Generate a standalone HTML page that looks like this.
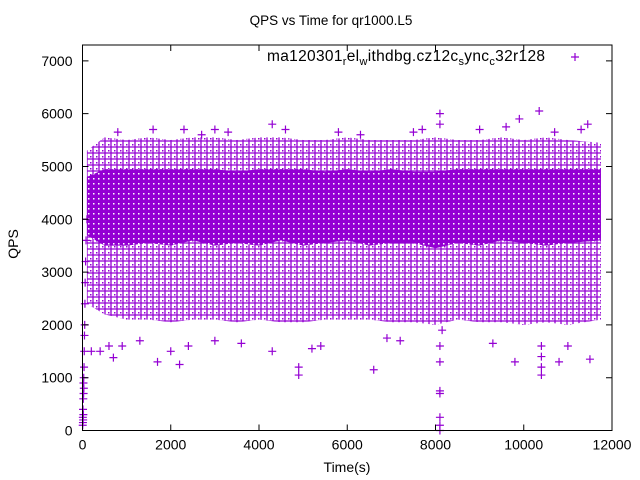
<!DOCTYPE html>
<html><head><meta charset="utf-8"><style>
body{margin:0;background:#fff}
svg{display:block;font-family:"Liberation Sans",sans-serif}
</style></head><body>
<svg id="chart" width="640" height="480" viewBox="0 0 640 480" xmlns="http://www.w3.org/2000/svg">
<defs>
<pattern id="pOuter" width="6" height="6" patternUnits="userSpaceOnUse">
<path d="M0 3h6M3 0v6" stroke="#9400d3" stroke-width="1.3" fill="none"/>
<rect x="0" y="0" width="1.5" height="1.5" fill="#9400d3"/>
</pattern>
<pattern id="pCore" width="5" height="5" patternUnits="userSpaceOnUse">
<rect width="5" height="5" fill="#9400d3"/>
<rect x="3" y="3" width="1.5" height="1.5" fill="#fff"/>
</pattern>
</defs>
<rect width="640" height="480" fill="#fff"/>
<text x="331" y="25" font-size="13.5" text-anchor="middle">QPS vs Time for qr1000.L5</text>
<text transform="translate(18,244) rotate(-90)" font-size="14" text-anchor="middle">QPS</text>
<text x="347" y="472" font-size="14" text-anchor="middle">Time(s)</text>
<g id="marks"></g>
<g id="axes"></g>
<g>
<text x="545" y="61" font-size="15.5" text-anchor="end" textLength="278">ma120301<tspan font-size="11" dy="4">r</tspan><tspan dy="-4">el</tspan><tspan font-size="11" dy="4">w</tspan><tspan dy="-4">ithdbg.cz12c</tspan><tspan font-size="11" dy="4">s</tspan><tspan dy="-4">ync</tspan><tspan font-size="11" dy="4">c</tspan><tspan dy="-4">32r128</tspan></text>
<path d="M571 57h8M575 53v8" stroke="#9400d3" stroke-width="1.2"/>
</g>
</svg>
<script>
const binT=[100,500,1000,1500,2000,2500,3000,3500,4000,4500,5000,5500,6000,6500,7000,7500,8000,8500,9000,9500,10000,10500,11000,11750];
const outerHi=[5300,5550,5500,5550,5500,5550,5550,5500,5550,5550,5500,5500,5550,5500,5500,5500,5550,5500,5500,5550,5500,5550,5500,5450];
const outerLo=[2400,2200,2100,2100,2050,2100,2100,2050,2100,2050,2050,2100,2100,2100,2050,2050,2000,2100,2050,2050,2000,2050,2000,2100];
const coreHi=[4800,4950,4950,4950,4950,4950,4950,4900,4950,4950,4950,4900,4950,4900,4950,4900,4900,4950,4950,4950,4950,4950,4950,4950];
const coreLo=[3700,3500,3500,3550,3500,3600,3500,3550,3500,3600,3500,3550,3600,3500,3550,3550,3450,3550,3500,3600,3550,3500,3550,3600];
const ptT=[5,8,10,12,15,18,20,22,25,28,30,35,40,45,50,55,60,70,80,100,400,700,900,1700,2000,2200,2400,3000,3600,4300,4900,4900,5400,6600,7200,8100,8100,8100,8100,8100,8100,8100,8150,8100,8100,9800,10400,10400,10400,10400,10800,11000,11500,10350,9900,9600,11450,7700,4300,2300,3000,200,600,1300,5200,6900,9300,800,1600,2700,3300,4600,5800,6300,7500,9000,10700,11300];
const ptV=[100,250,150,400,200,600,300,900,700,1000,800,1200,1500,1800,2000,2400,2800,3200,3600,4000,1500,1380,1600,1300,1500,1250,1600,1700,1650,1500,1050,1200,1600,1150,1700,0,100,250,700,750,1300,1600,1900,6000,5800,1300,1050,1200,1400,1600,1300,1600,1350,6050,5900,5750,5800,5700,5800,5700,5700,1500,1600,1700,1550,1750,1650,5650,5700,5600,5650,5700,5650,5600,5650,5700,5650,5700];
const xTicks=[0,2000,4000,6000,8000,10000,12000];
const yTicks=[0,1000,2000,3000,4000,5000,6000,7000];
const X0=82.5,X1=612,Y0=430.5,Y1=45,XMAX=12000,YMAX=7300;
function xs(t){return X0+t*(X1-X0)/XMAX;}
function ys(v){return Y0-v*(Y0-Y1)/YMAX;}
const NS="http://www.w3.org/2000/svg";
const marks=document.getElementById('marks'),axes=document.getElementById('axes');
function band(hi,lo,fill){
  let d="M"+xs(binT[0])+" "+ys(hi[0]);
  for(let i=1;i<binT.length;i++)d+=" L"+xs(binT[i])+" "+ys(hi[i]);
  for(let i=binT.length-1;i>=0;i--)d+=" L"+xs(binT[i])+" "+ys(lo[i]);
  const p=document.createElementNS(NS,'path');
  p.setAttribute('d',d+"Z");p.setAttribute('fill',fill);
  marks.appendChild(p);
  return p;
}
const ob=band(outerHi,outerLo,"url(#pOuter)");


const cb=band(coreHi,coreLo,"url(#pCore)");


for(let i=0;i<ptT.length;i++){
  const x=xs(ptT[i]),y=ys(ptV[i]);
  const p=document.createElementNS(NS,'path');
  p.setAttribute('d',`M${x-4} ${y}h8M${x} ${y-4}v8`);
  p.setAttribute('stroke','#9400d3');p.setAttribute('stroke-width','1.2');
  
  
  marks.appendChild(p);
}
const frame=document.createElementNS(NS,'rect');
frame.setAttribute('x',X0);frame.setAttribute('y',Y1);frame.setAttribute('width',X1-X0);frame.setAttribute('height',Y0-Y1);
frame.setAttribute('fill','none');frame.setAttribute('stroke','#000');


axes.appendChild(frame);
xTicks.forEach(t=>{
  const x=xs(t);
  const l=document.createElementNS(NS,'path');
  l.setAttribute('d',`M${x} ${Y0}v-6M${x} ${Y1}v6`);l.setAttribute('stroke','#000');
  
  
  axes.appendChild(l);
  const tx=document.createElementNS(NS,'text');
  tx.setAttribute('x',x);tx.setAttribute('y',Y0+19);tx.setAttribute('font-size','14');tx.setAttribute('text-anchor','middle');
  tx.textContent=t;
  
  
  axes.appendChild(tx);
});
yTicks.forEach(v=>{
  const y=ys(v);
  const l=document.createElementNS(NS,'path');
  l.setAttribute('d',`M${X0} ${y}h6M${X1} ${y}h-6`);l.setAttribute('stroke','#000');
  
  
  axes.appendChild(l);
  const tx=document.createElementNS(NS,'text');
  tx.setAttribute('x',X0-10);tx.setAttribute('y',y+5);tx.setAttribute('font-size','14');tx.setAttribute('text-anchor','end');
  tx.textContent=v;
  
  
  axes.appendChild(tx);
});
</script>
</body></html>
